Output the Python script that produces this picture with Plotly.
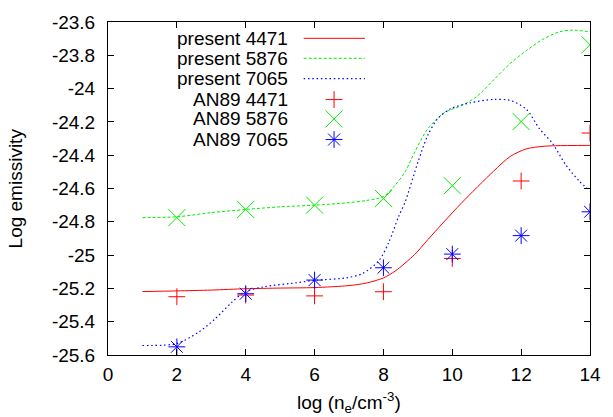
import plotly.graph_objects as go

# ---------------- data ----------------
# model curves ("present")
x_4471 = [1, 2, 3, 4, 5, 6, 7, 7.5, 8, 8.34, 8.91, 9.3, 10.25, 11.2, 11.68, 12.15, 12.63, 13.0, 14]
y_4471 = [-25.219, -25.215, -25.21, -25.202, -25.198, -25.195, -25.183, -25.168, -25.137, -25.096,
          -24.996, -24.905, -24.691, -24.496, -24.408, -24.362, -24.347, -24.343, -24.341]

x_5876 = [1, 2, 3, 4, 5, 6, 7, 7.5, 8, 8.34, 8.63, 8.91, 9.29, 9.77, 10.25, 10.72, 11.2, 11.68,
          12.15, 12.63, 13.11, 13.49, 14]
y_5876 = [-24.775, -24.77, -24.745, -24.726, -24.71, -24.70, -24.685, -24.672, -24.648, -24.58,
          -24.50, -24.38, -24.241, -24.144, -24.104, -24.046, -23.948, -23.850, -23.772, -23.704,
          -23.659, -23.649, -23.659]

x_7065 = [1, 2, 2.63, 3.1, 3.58, 3.96, 4.53, 5.49, 5.96, 6.91, 7.39, 7.87, 8.15, 8.44, 8.63, 9.01,
          9.29, 9.58, 9.96, 10.53, 11.2, 11.68, 12.15, 12.53, 12.91, 13.29, 13.68, 14]
y_7065 = [-25.543, -25.531, -25.463, -25.385, -25.287, -25.223, -25.19, -25.166, -25.152, -25.137,
          -25.111, -25.033, -24.926, -24.769, -24.681, -24.437, -24.28, -24.18, -24.12, -24.085,
          -24.065, -24.071, -24.124, -24.241, -24.329, -24.456, -24.554, -24.615]

# AN89 points
an89_x = [2, 4, 6, 8, 10, 12, 14]
an89_4471 = [-25.25, -25.24, -25.245, -25.22, -25.02, -24.555, -24.267]
an89_5876 = [-24.775, -24.726, -24.70, -24.66, -24.583, -24.198, -23.737]
an89_7065 = [-25.551, -25.232, -25.15, -25.076, -24.994, -24.883, -24.74]

# ticks and labels
x_ticks = [0, 2, 4, 6, 8, 10, 12, 14]
x_ticktext = ["0", "2", "4", "6", "8", "10", "12", "14"]
y_ticks = [-25.6, -25.4, -25.2, -25.0, -24.8, -24.6, -24.4, -24.2, -24.0, -23.8, -23.6]
y_ticktext = ["-25.6", "-25.4", "-25.2", "-25", "-24.8", "-24.6", "-24.4", "-24.2", "-24", "-23.8", "-23.6"]

legend_labels = ["present 4471", "present 5876", "present 7065", "AN89 4471", "AN89 5876", "AN89 7065"]

# ---------------- styles ----------------
RED, GREEN, BLUE = "#ff0000", "#00ee00", "#0000ff"
FONT = "Liberation Sans, Arial, sans-serif"
FS = 19

line_styles = [
    dict(color=RED, width=1, dash="solid"),
    dict(color=GREEN, width=1, dash="3px,2px"),
    dict(color=BLUE, width=1.2, dash="1.5px,2.8px"),
]
marker_styles = [
    dict(symbol="cross-thin", size=12, color=RED, line=dict(color=RED, width=1)),
    dict(symbol="x-thin", size=17, color=GREEN, line=dict(color=GREEN, width=1)),
    dict(symbol="asterisk", size=14, color=BLUE, line=dict(color=BLUE, width=1)),
]

fig = go.Figure()

curves = [(x_4471, y_4471), (x_5876, y_5876), (x_7065, y_7065)]
for (cx, cy), ls in zip(curves, line_styles):
    fig.add_trace(go.Scatter(x=cx, y=cy, mode="lines", line=dict(shape="spline", smoothing=0.8, **ls),
                             showlegend=False, hoverinfo="skip"))

for ys, ms in zip([an89_4471, an89_5876, an89_7065], marker_styles):
    fig.add_trace(go.Scatter(x=an89_x, y=ys, mode="markers", marker=ms, showlegend=False))

# ---------------- gnuplot-style key (text left, sample right) ----------------
row_y = [0.951, 0.891, 0.830, 0.767, 0.709, 0.647]
text_x = 0.378
sample_x0, sample_x1, sample_xm = 0.406, 0.533, 0.469

annotations = []
for lbl, ry in zip(legend_labels, row_y):
    annotations.append(dict(text=lbl, x=text_x, y=ry, xref="paper", yref="paper",
                            xanchor="right", yanchor="middle", showarrow=False,
                            font=dict(family=FONT, size=FS, color="black")))

for ls, ry in zip(line_styles, row_y[:3]):
    fig.add_trace(go.Scatter(x=[sample_x0, sample_x1], y=[ry, ry], mode="lines", line=ls,
                             xaxis="x2", yaxis="y2", showlegend=False, hoverinfo="skip"))
for ms, ry in zip(marker_styles, row_y[3:]):
    fig.add_trace(go.Scatter(x=[sample_xm], y=[ry], mode="markers", marker=ms,
                             xaxis="x2", yaxis="y2", showlegend=False, hoverinfo="skip"))

# axis titles
annotations.append(dict(text="log (n<sub>e</sub>/cm<sup>-3</sup>)", x=0.5, y=-0.142, xref="paper", yref="paper",
                        xanchor="center", yanchor="middle", showarrow=False,
                        font=dict(family=FONT, size=FS, color="black")))
annotations.append(dict(text="Log emissivity", x=-0.191, y=0.5, xref="paper", yref="paper",
                        xanchor="center", yanchor="middle", textangle=-90, showarrow=False,
                        font=dict(family=FONT, size=FS, color="black")))

axis_common = dict(showline=True, linecolor="black", linewidth=1, mirror="ticks",
                   ticks="inside", ticklen=6, tickwidth=1, tickcolor="black",
                   showgrid=False, zeroline=False,
                   tickfont=dict(family=FONT, size=FS, color="black"))

fig.update_layout(
    width=613, height=417,
    margin=dict(l=108, r=15, t=14, b=62),
    paper_bgcolor="white", plot_bgcolor="white",
    showlegend=False,
    xaxis=dict(range=[0, 14], tickmode="array", tickvals=x_ticks, ticktext=x_ticktext,
               ticklabelstandoff=2, **axis_common),
    yaxis=dict(range=[-25.6, -23.6], tickmode="array", tickvals=y_ticks, ticktext=y_ticktext,
               ticklabelstandoff=8, **axis_common),
    xaxis2=dict(range=[0, 1], overlaying="x", visible=False, fixedrange=True),
    yaxis2=dict(range=[0, 1], overlaying="y", visible=False, fixedrange=True),
    annotations=annotations,
    font=dict(family=FONT, size=FS, color="black"),
)

fig.write_html(
    "out.html",
    config={"responsive": False, "displayModeBar": False},
    post_script="document.body.style.margin='0';document.body.style.overflow='hidden';"
                "document.documentElement.style.overflow='hidden';",
)
